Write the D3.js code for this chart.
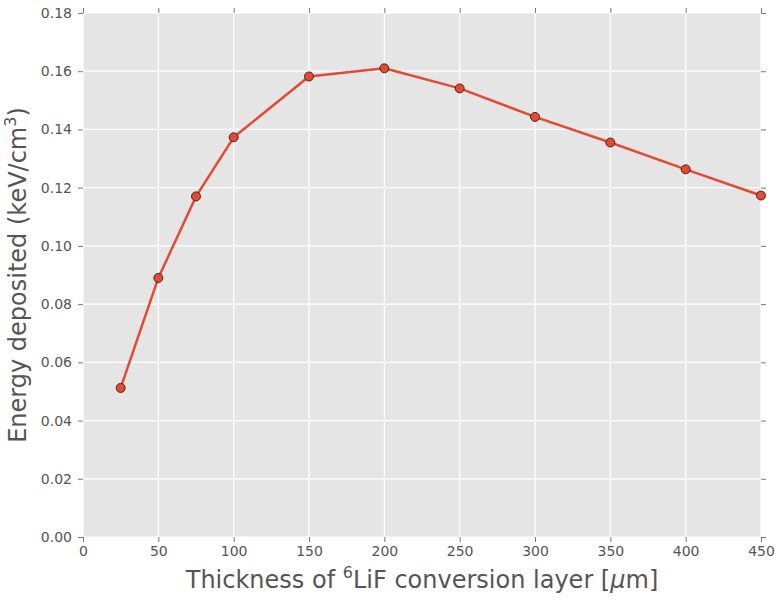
<!DOCTYPE html>
<html lang="en">
<head>
<meta charset="UTF-8">
<title>Energy deposited vs thickness</title>
<script src="https://cdn.jsdelivr.net/npm/d3@7"></script>
<style>
    html, body { margin: 0; padding: 0; background: white; }
    svg { display: block; font-family: "DejaVu Sans", sans-serif; }
</style>
</head>
<body>
<div id="chart"></div>
<script>
    // thickness [um] and energy deposited [keV/cm^3]
    let thickness = [25, 50, 75, 100, 150, 200, 250, 300, 350, 400, 450];
    let energy = [0.0512, 0.0890, 0.1170, 0.1373, 0.1582, 0.1610, 0.1541, 0.1443, 0.1355, 0.1263, 0.1173];
    let xTicks = [0, 50, 100, 150, 200, 250, 300, 350, 400, 450];
    let yTicks = [0.00, 0.02, 0.04, 0.06, 0.08, 0.10, 0.12, 0.14, 0.16, 0.18];

    let W = 783, H = 601;
    let m = {left: 83, right: 22, top: 13, bottom: 64};

    let svg = d3.select("#chart").append("svg")
        .attr("width", W).attr("height", H);

    let x = d3.scaleLinear().domain([0, 450]).range([m.left, W - m.right]);
    let y = d3.scaleLinear().domain([0, 0.18]).range([H - m.bottom, m.top]);

    svg.append("rect")
        .attr("x", x(0)).attr("y", y(0.18))
        .attr("width", x(450) - x(0)).attr("height", y(0) - y(0.18))
        .attr("fill", "#e5e5e5");

    // grid
    svg.append("g").selectAll("line.vg").data(xTicks).enter().append("line")
        .attr("x1", d => x(d)).attr("x2", d => x(d))
        .attr("y1", y(0)).attr("y2", y(0.18))
        .attr("stroke", "white").attr("stroke-width", 1.2);
    svg.append("g").selectAll("line.hg").data(yTicks).enter().append("line")
        .attr("y1", d => y(d)).attr("y2", d => y(d))
        .attr("x1", x(0)).attr("x2", x(450))
        .attr("stroke", "white").attr("stroke-width", 1.2);

    function styleAxis(g) {
        g.select(".domain").remove();
        g.selectAll(".tick line").attr("stroke", "#555").attr("stroke-width", 0.8);
        g.selectAll(".tick text").attr("fill", "#555").style("font-size", "14px")
            .style("font-family", "'DejaVu Sans', sans-serif");
    }

    svg.append("g")
        .attr("transform", "translate(0," + y(0) + ")")
        .call(d3.axisBottom(x).tickValues(xTicks).tickSize(5).tickPadding(4).tickFormat(d3.format("d")))
        .call(styleAxis);
    svg.append("g")
        .attr("transform", "translate(0," + y(0.18) + ")")
        .call(d3.axisTop(x).tickValues(xTicks).tickSize(5).tickFormat(""))
        .call(styleAxis);
    svg.append("g")
        .attr("transform", "translate(" + x(0) + ",0)")
        .call(d3.axisLeft(y).tickValues(yTicks).tickSize(5).tickPadding(6).tickFormat(d3.format(".2f")))
        .call(styleAxis);
    svg.append("g")
        .attr("transform", "translate(" + x(450) + ",0)")
        .call(d3.axisRight(y).tickValues(yTicks).tickSize(5).tickFormat(""))
        .call(styleAxis);

    let pts = thickness.map((t, i) => [t, energy[i]]);

    svg.append("path")
        .datum(pts)
        .attr("fill", "none")
        .attr("stroke", "#E24A33")
        .attr("stroke-width", 2.5)
        .attr("stroke-linejoin", "round")
        .attr("d", d3.line().x(d => x(d[0])).y(d => y(d[1])));

    svg.append("g").selectAll("circle").data(pts).enter().append("circle")
        .attr("cx", d => x(d[0])).attr("cy", d => y(d[1]))
        .attr("r", 4.5)
        .attr("fill", "#E24A33")
        .attr("stroke", "#3a1a14").attr("stroke-width", 0.9);

    // axis labels
    let xl = svg.append("text")
        .attr("x", (x(0) + x(450)) / 2).attr("y", 588)
        .attr("text-anchor", "middle")
        .attr("fill", "#555")
        .style("font-size", "24px");
    xl.append("tspan").text("Thickness of ");
    xl.append("tspan").text("6").style("font-size", "16px").attr("dy", -10);
    xl.append("tspan").text("LiF conversion layer [").attr("dy", 10);
    xl.append("tspan").text("μ").style("font-style", "italic");
    xl.append("tspan").text("m]");

    let yl = svg.append("text")
        .attr("transform", "translate(26," + (y(0.09)) + ") rotate(-90)")
        .attr("text-anchor", "middle")
        .attr("fill", "#555")
        .style("font-size", "24px");
    yl.append("tspan").text("Energy deposited (keV/cm");
    yl.append("tspan").text("3").style("font-size", "16px").attr("dy", -10);
    yl.append("tspan").text(")").attr("dy", 10);
</script>
</body>
</html>
